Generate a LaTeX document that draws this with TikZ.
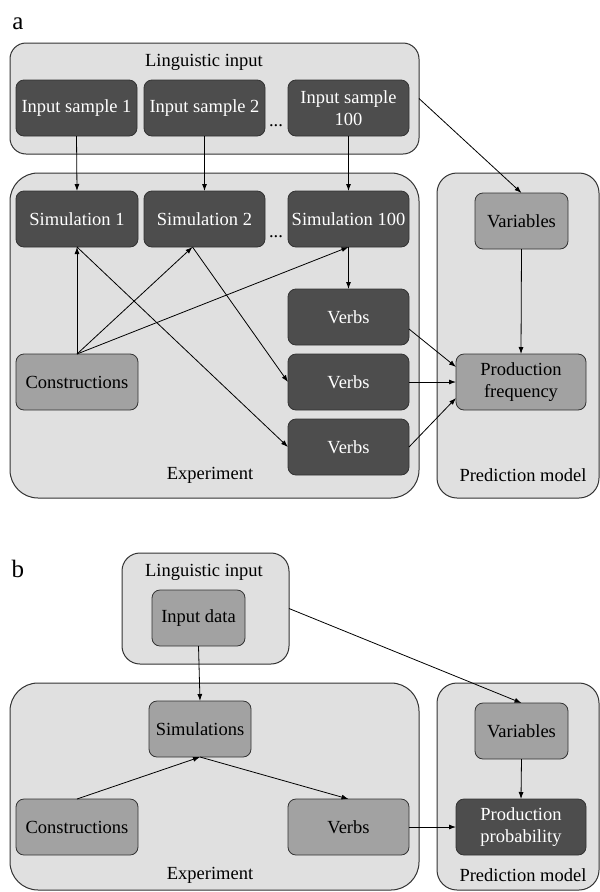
\documentclass[tikz,border=0pt]{standalone}
\usepackage{fontspec}
\setmainfont{Liberation Serif}
\usetikzlibrary{calc,arrows.meta}
\definecolor{lightbg}{HTML}{E0E0E0}
\definecolor{midbox}{HTML}{A2A2A2}
\definecolor{darkbox}{HTML}{4D4D4D}
\definecolor{edgec}{HTML}{333333}
\begin{document}
\begin{tikzpicture}[x=1pt,y=-1pt,
  every node/.style={font=\fontsize{18.5}{22}\selectfont, inner sep=0pt, outer sep=0pt},
  container/.style={draw=edgec, line width=1pt, fill=lightbg},
  darkn/.style={draw=edgec, line width=0.8pt, fill=darkbox, text=white, rounded corners=8pt, align=center},
  midn/.style={draw=edgec, line width=0.8pt, fill=midbox, text=black, rounded corners=8pt, align=center},
  arr/.style={-{Latex[length=7pt,width=5pt]}, line width=0.8pt, draw=black},
  plain/.style={line width=0.8pt, draw=black},
  title/.style={text=black},
  panel/.style={font=\fontsize{25}{28}\selectfont, anchor=base}]
\useasboundingbox (0,0) rectangle (600,892);
\fill[white] (0,0) rectangle (600,892);

% ---------------- Panel a ----------------
\node[panel] (la) at (18,29) {a};

\node[container, rounded corners=16pt, minimum width=409pt, minimum height=111pt] (lingA) at (214.5,98.5) {};
\node[title] (lingAt) at (204,62) {Linguistic input};

\node[container, rounded corners=28pt, minimum width=409pt, minimum height=325pt] (expA) at (214.5,335.5) {};
\node[container, rounded corners=20pt, minimum width=162pt, minimum height=325pt] (predA) at (518,335.5) {};

\node[darkn, minimum width=121pt, minimum height=56pt] (is1) at (76.5,108) {Input sample 1};
\node[darkn, minimum width=121pt, minimum height=56pt] (is2) at (204.5,108) {Input sample 2};
\node[darkn, minimum width=121pt, minimum height=56pt] (is100) at (348.5,108) {Input sample\\100};
\node[title] (dotsA1) at (276,126) {...};

\node[darkn, minimum width=122pt, minimum height=56pt] (sim1) at (77,219) {Simulation 1};
\node[darkn, minimum width=121pt, minimum height=56pt] (sim2) at (204.5,219) {Simulation 2};
\node[darkn, minimum width=121pt, minimum height=56pt] (sim100) at (348.5,219) {Simulation 100};
\node[title] (dotsA2) at (276,237) {...};

\node[darkn, minimum width=121pt, minimum height=56pt] (v1) at (348.5,317) {Verbs};
\node[darkn, minimum width=121pt, minimum height=56pt] (v2) at (348.5,382) {Verbs};
\node[darkn, minimum width=121pt, minimum height=56pt] (v3) at (348.5,447) {Verbs};
\node[midn, minimum width=122pt, minimum height=56pt] (consA) at (77,382) {Constructions};

\node[title] (expAt) at (210,475) {Experiment};

\node[midn, minimum width=93pt, minimum height=56pt] (varA) at (521.5,221) {Variables};
\node[midn, minimum width=130pt, minimum height=56pt] (pf) at (521,382) {Production\\frequency};
\node[title] (predAt) at (523,475) {Prediction model};

\coordinate (s2b) at ($(sim2.south)+(-12,0)$);

\draw[arr] (is1.south) -- (sim1.north);
\draw[arr] (is2.south) -- (sim2.north);
\draw[arr] (is100.south) -- (sim100.north);
\draw[arr] (lingA.east) -- (varA.north);
\draw[arr] (consA.north) -- (sim1.south);
\draw[arr] (consA.north) -- (s2b);
\draw[arr] (consA.north) -- (sim100.south);
\draw[arr] (sim1.south) -- (v3.west);
\draw[arr] (s2b) -- (v2.west);
\draw[arr] (sim100.south) -- (v1.north);
\draw[arr] ($(v1.east)+(0,12)$) -- ($(pf.west)+(0,-15)$);
\draw[arr] (v2.east) -- (pf.west);
\draw[arr] (v3.east) -- ($(pf.west)+(0,16)$);
\draw[arr] (varA.south) -- (pf.north);

% ---------------- Panel b ----------------
\node[panel] (lb) at (18,577) {b};

\node[container, rounded corners=18pt, minimum width=167pt, minimum height=111pt] (lingB) at (205.5,608.5) {};
\node[title] (lingBt) at (204,572) {Linguistic input};

\node[container, rounded corners=28pt, minimum width=409pt, minimum height=207pt] (expB) at (214.5,786.5) {};
\node[container, rounded corners=20pt, minimum width=162pt, minimum height=207pt] (predB) at (518,786.5) {};

\node[midn, minimum width=93pt, minimum height=56pt] (inData) at (198.5,618) {Input data};
\node[midn, minimum width=102pt, minimum height=56pt] (sims) at (200,729) {Simulations};
\node[midn, minimum width=122pt, minimum height=56pt] (consB) at (77,827) {Constructions};
\node[midn, minimum width=121pt, minimum height=56pt] (verbsB) at (348.5,827) {Verbs};
\node[title] (expBt) at (210,875) {Experiment};

\node[midn, minimum width=93pt, minimum height=56pt] (varB) at (521.5,731) {Variables};
\node[darkn, minimum width=130pt, minimum height=56pt] (pp) at (521,827) {Production\\probability};
\node[title] (predBt) at (523,875) {Prediction model};

\draw[arr] (inData.south) -- (sims.north);
\draw[arr] (lingB.east) -- (varB.north);
\draw[arr] (consB.north) -- (sims.south);
\draw[arr] (sims.south) -- (verbsB.north);
\draw[arr] (verbsB.east) -- (pp.west);
\draw[arr] (varB.south) -- (pp.north);
\end{tikzpicture}
\end{document}
